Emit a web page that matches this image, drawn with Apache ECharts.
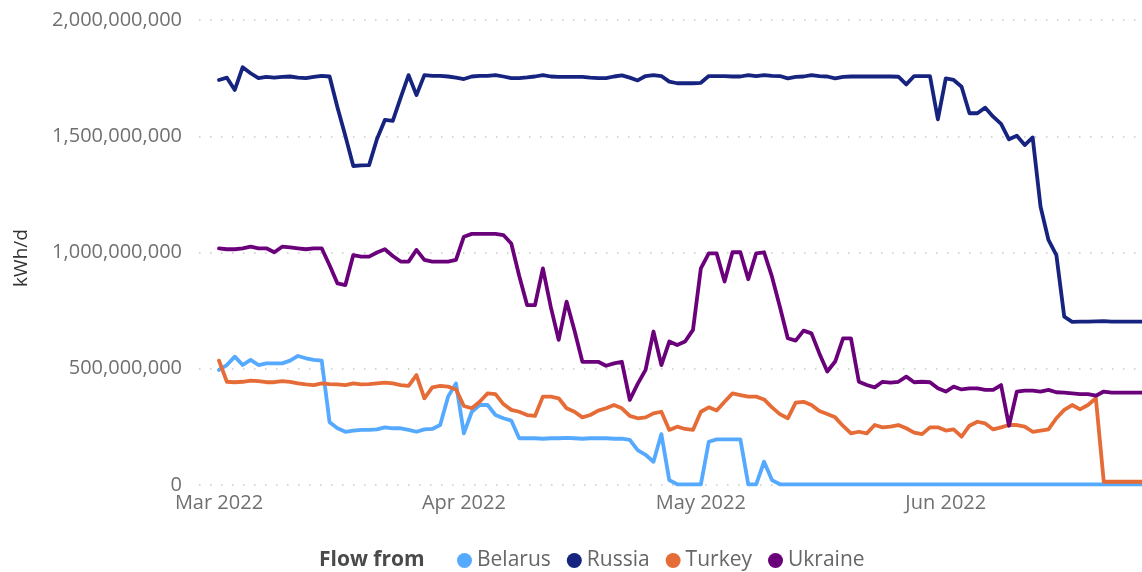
<!DOCTYPE html>
<html>
<head>
<meta charset="utf-8">
<script src="https://cdn.jsdelivr.net/npm/echarts@6/dist/echarts.min.js"></script>
<style>
  html, body { margin: 0; padding: 0; background: #fff; }
  #chart { width: 1142px; height: 572px; }
</style>
</head>
<body>
<div id="chart"></div>
<script>
// Daily series starting 1 Mar 2022, values in million kWh/d
const firstDay = [2022, 2, 1];
const seriesNames = ['Belarus', 'Russia', 'Turkey', 'Ukraine'];
const monthTicks = ['2022-03-01', '2022-04-01', '2022-05-01', '2022-06-01'];

const belarus = [495,516,552,516,538,516,523,523,523,535,555,545,538,535,270,244,229,234,237,237,
  239,248,244,244,237,229,239,241,258,380,437,222,315,344,344,301,287,277,201,201,
  201,199,201,201,203,201,199,201,201,201,199,199,194,150,130,100,219,21,3,3,
  3,3,186,196,196,196,196,3,3,100,21,3,3,3,3,3,3,3,3,3,
  3,3,3,3,3,3,3,3,3,3,3,3,3,3,3,3,3,3,3,3,
  3,3,3,3,3,3,3,3,3,3,3,3,3,3,3,3,3,3];

const russia = [1742,1752,1699,1797,1771,1750,1755,1752,1755,1757,1752,1750,1755,1760,1757,1624,1501,1372,1375,1376,
  1488,1570,1566,1666,1763,1677,1763,1760,1760,1757,1752,1746,1757,1760,1760,1763,1757,1750,1750,1753,
  1757,1763,1757,1755,1755,1755,1755,1752,1750,1750,1757,1762,1752,1740,1759,1763,1759,1735,1728,1728,
  1728,1730,1759,1759,1759,1757,1757,1763,1759,1763,1760,1759,1749,1755,1757,1763,1759,1757,1749,1755,
  1757,1757,1757,1757,1757,1757,1756,1723,1759,1759,1759,1573,1749,1742,1713,1599,1599,1623,1584,1553,
  1487,1502,1462,1495,1197,1054,989,724,702,703,703,704,705,703,703,703,703,703];

const turkey = [535,444,442,444,449,447,442,442,447,444,437,433,430,437,434,433,430,437,433,434,
  437,440,437,430,426,473,373,420,426,423,411,340,330,358,394,391,348,323,315,301,
  297,380,380,373,330,315,291,301,320,330,344,330,297,287,291,308,315,237,251,241,
  237,315,334,320,358,394,387,380,380,368,334,305,287,354,358,344,318,305,291,254,
  222,229,222,258,248,251,258,244,225,219,248,248,234,239,208,255,272,265,239,248,
  258,258,251,229,234,239,287,323,344,325,344,373,14,14,14,14,14,14];

const ukraine = [1018,1014,1014,1018,1025,1018,1018,1001,1025,1022,1018,1014,1018,1018,945,867,860,989,982,982,
  1000,1014,985,961,961,1011,968,961,961,961,968,1068,1080,1080,1080,1080,1075,1039,900,774,
  774,932,766,624,789,665,530,530,530,513,523,530,366,435,495,660,516,617,602,617,
  667,932,996,996,875,1001,1001,885,996,1001,896,767,631,621,664,652,566,488,531,631,
  631,444,430,420,444,440,444,466,442,444,442,416,402,423,411,416,416,409,409,430,
  255,402,406,406,402,409,399,397,394,391,391,384,402,397,397,397,397,397];

const yTicks = [0, 500000000, 1000000000, 1500000000, 2000000000];

const colors = ['#55A9FF', '#16237F', '#E66C37', '#6B007B'];
const valueSets = [belarus, russia, turkey, ukraine];

function dayTs(i) {
  return new Date(firstDay[0], firstDay[1], firstDay[2] + i).getTime();
}
function monthTs(s) {
  const p = s.split('-').map(Number);
  return new Date(p[0], p[1] - 1, p[2]).getTime();
}
const monthNames = ['Jan','Feb','Mar','Apr','May','Jun','Jul','Aug','Sep','Oct','Nov','Dec'];

const FONT = '"Open Sans", "Noto Sans", sans-serif';

const chart = echarts.init(document.getElementById('chart'), null, { renderer: 'canvas' });

const series = seriesNames.map((name, k) => ({
  name: name,
  type: 'line',
  showSymbol: false,
  symbol: 'circle',
  smooth: false,
  data: valueSets[k].map((v, i) => [dayTs(i), v * 1e6]),
  lineStyle: { width: 3.8, color: colors[k], join: 'round', cap: 'round' },
  itemStyle: { color: colors[k] },
  emphasis: { disabled: true },
  z: 2
}));

chart.setOption({
  animation: false,
  backgroundColor: '#ffffff',
  color: colors,
  textStyle: { fontFamily: FONT },
  grid: { left: 199, right: 0, top: 20, bottom: 87, containLabel: false },
  xAxis: {
    type: 'value',
    min: new Date(2022, 1, 26, 11, 17).getTime(),
    max: new Date(2022, 5, 25, 20, 10).getTime(),
    axisLine: { show: false },
    axisTick: { show: false },
    splitLine: { show: false },
    axisLabel: {
      customValues: monthTicks.map(monthTs),
      formatter: function (val) {
        const d = new Date(val);
        return monthNames[d.getMonth()] + ' ' + d.getFullYear();
      },
      color: '#707070',
      fontSize: 20,
      fontFamily: FONT,
      margin: 8
    }
  },
  yAxis: {
    type: 'value',
    min: yTicks[0],
    max: yTicks[yTicks.length - 1],
    interval: yTicks[1] - yTicks[0],
    axisLine: { show: false },
    axisTick: { show: false },
    splitLine: {
      show: true,
      lineStyle: { color: '#c8c8c8', width: 1.5, type: [1.5, 9.5] }
    },
    axisLabel: {
      formatter: function (v) { return Math.round(v).toLocaleString('en-US'); },
      color: '#707070',
      fontSize: 20,
      fontFamily: FONT,
      margin: 17
    }
  },
  legend: {
    data: seriesNames,
    left: 452,
    top: 545,
    icon: 'circle',
    itemWidth: 15,
    itemHeight: 15,
    itemGap: 16,
    textStyle: { color: '#666666', fontSize: 21, fontFamily: FONT },
    selectedMode: false
  },
  graphic: [
    {
      type: 'text',
      left: 319,
      top: 550,
      style: { text: 'Flow from', fill: '#4a4a4a', font: 'bold 21px ' + FONT }
    },
    {
      type: 'text',
      x: 22,
      y: 258,
      rotation: Math.PI / 2,
      style: {
        text: 'kWh/d',
        fill: '#333333',
        font: '19px ' + FONT,
        align: 'center',
        verticalAlign: 'middle'
      }
    }
  ],
  series: series
});
</script>
</body>
</html>
